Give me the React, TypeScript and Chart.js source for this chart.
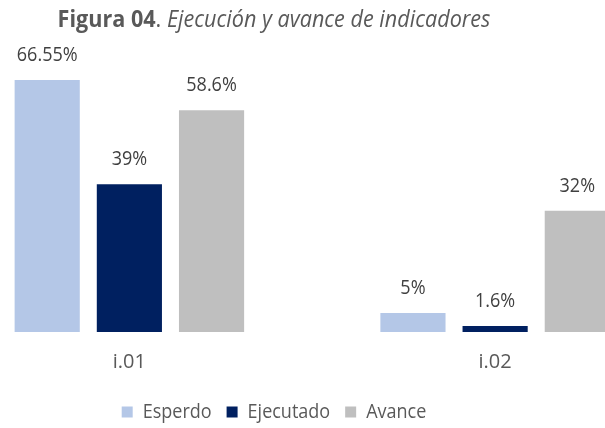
import React, { useEffect, useRef } from "react";
import { Chart, registerables } from "chart.js";

Chart.register(...registerables);

const categories = ["i.01", "i.02"];
const esperado = [66.55, 5];
const ejecutado = [39, 1.6];
const avance = [58.6, 32];
const seriesNames = ["Esperdo", "Ejecutado", "Avance"];
const seriesColors = ["#B4C7E7", "#002060", "#BFBFBF"];
const titleBold = "Figura 04";
const titleDot = ".";
const titleItalic = " Ejecución y avance de indicadores";

const FONT = "'Open Sans', sans-serif";
// tick labels keep the natural width; marker family never actually used
const FONT_WIDE = "'Open Sans', Lato, sans-serif";
// horizontal squeeze applied to text runs (the reference font is narrower)
const TEXT_SX = 0.9;

function condenseText(ctx: any) {
  const origFill = ctx.fillText.bind(ctx);
  const origMeasure = ctx.measureText.bind(ctx);
  const sx = () => (String(ctx.font).includes("Lato") ? 1 : TEXT_SX);
  ctx.fillText = (text: string, x: number, y: number) => {
    const k = sx();
    ctx.save();
    ctx.translate(x, y);
    ctx.scale(k, 1);
    origFill(text, 0, 0);
    ctx.restore();
  };
  ctx.measureText = (text: string) => {
    const k = sx();
    const m = origMeasure(text);
    return {
      width: m.width * k,
      actualBoundingBoxLeft: m.actualBoundingBoxLeft * k,
      actualBoundingBoxRight: m.actualBoundingBoxRight * k,
      actualBoundingBoxAscent: m.actualBoundingBoxAscent,
      actualBoundingBoxDescent: m.actualBoundingBoxDescent,
      fontBoundingBoxAscent: m.fontBoundingBoxAscent,
      fontBoundingBoxDescent: m.fontBoundingBoxDescent,
    };
  };
}

const titlePlugin = {
  id: "richTitle",
  afterDraw(chart: any) {
    const ctx = chart.ctx;
    ctx.save();
    const bold = `bold 24px ${FONT}`;
    const reg = `24px ${FONT}`;
    const ital = `italic 24px ${FONT}`;
    ctx.font = bold;
    const w1 = ctx.measureText(titleBold).width;
    ctx.font = reg;
    const w2 = ctx.measureText(titleDot).width;
    ctx.font = ital;
    const w3 = ctx.measureText(titleItalic).width;
    let x = chart.width / 2 - (w1 + w2 + w3) / 2;
    const y = 27;
    ctx.fillStyle = "#595959";
    ctx.textBaseline = "alphabetic";
    ctx.textAlign = "left";
    ctx.font = bold;
    ctx.fillText(titleBold, x, y);
    x += w1;
    ctx.font = reg;
    ctx.fillText(titleDot, x, y);
    x += w2;
    ctx.font = ital;
    ctx.fillText(titleItalic, x, y);
    ctx.restore();
  },
};

const labelPlugin = {
  id: "valueLabels",
  afterDatasetsDraw(chart: any) {
    const ctx = chart.ctx;
    ctx.save();
    ctx.font = `20px ${FONT}`;
    ctx.fillStyle = "#404040";
    ctx.textAlign = "center";
    ctx.textBaseline = "alphabetic";
    chart.data.datasets.forEach((ds: any, i: number) => {
      const meta = chart.getDatasetMeta(i);
      meta.data.forEach((el: any, j: number) => {
        const v = ds.data[j];
        ctx.fillText(`${v}%`, el.x, el.y - 19);
      });
    });
    ctx.restore();
  },
};

export default function App() {
  const ref = useRef<HTMLCanvasElement>(null);
  useEffect(() => {
    if (!ref.current) return;
    const ctx2d = ref.current.getContext("2d");
    condenseText(ctx2d);
    const data = [esperado, ejecutado, avance];
    const chart = new Chart(ref.current, {
      type: "bar",
      data: {
        labels: categories,
        datasets: data.map((d, i) => ({
          label: seriesNames[i],
          data: d,
          backgroundColor: seriesColors[i],
          borderWidth: 0,
          categoryPercentage: 0.674,
          barPercentage: 0.793,
        })),
      },
      options: {
        animation: false,
        responsive: false,
        layout: { padding: { top: 67, left: 0, right: 0, bottom: -4 } },
        plugins: {
          title: { display: false },
          tooltip: { enabled: false },
          legend: {
            position: "bottom",
            labels: {
              boxWidth: 11,
              boxHeight: 11,
              padding: 15,
              color: "#595959",
              font: { size: 20, family: FONT },
            },
          },
        },
        scales: {
          x: {
            grid: { display: false, drawTicks: false },
            border: { display: false },
            ticks: { color: "#595959", font: { size: 20, family: FONT_WIDE }, padding: 18 },
            afterFit: (s: any) => {
              s.height = 55;
            },
          },
          y: {
            display: true,
            min: 0,
            max: 70,
            grid: { display: false, drawTicks: false },
            border: { display: false },
            ticks: { display: false },
            afterFit: (s: any) => {
              s.width = 76.5;
            },
          },
        },
      },
      plugins: [titlePlugin, labelPlugin],
    } as any);
    return () => chart.destroy();
  }, []);
  return (
    <div
      style={{
        position: "fixed",
        left: 0,
        top: 0,
        width: 605,
        height: 428,
        overflow: "hidden",
        background: "#fff",
      }}
    >
      <div style={{ position: "absolute", left: -130, top: 0, width: 808, height: 428 }}>
        <canvas ref={ref} width={808} height={428} style={{ display: "block" }} />
      </div>
    </div>
  );
}
